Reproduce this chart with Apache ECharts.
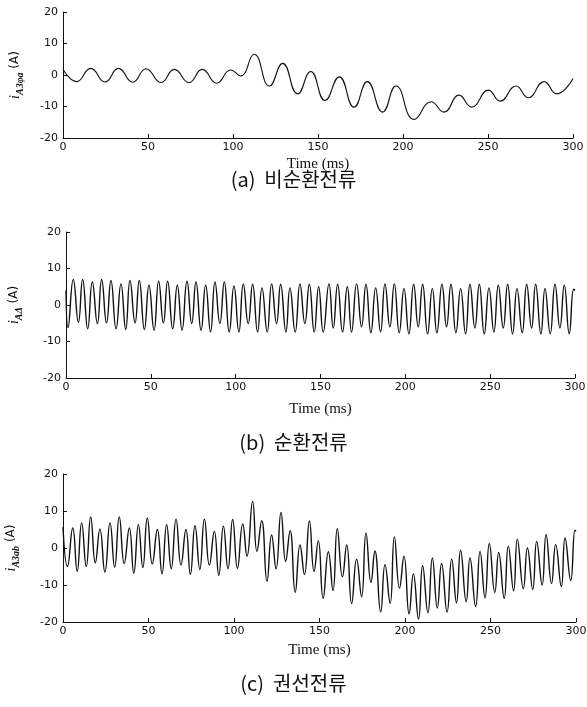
<!DOCTYPE html>
<html>
<head>
<meta charset="utf-8">
<script src="https://cdn.jsdelivr.net/npm/echarts@6/dist/echarts.min.js"></script>
<style>
  html, body { margin: 0; padding: 0; background: #fff; }
  #chart { width: 587px; height: 707px; }
</style>
</head>
<body>
<div id="chart"></div>
<script>
// Axis ticks shared by the three panels
const timeTicks = [0, 50, 100, 150, 200, 250, 300];
const currentTicks = [-20, -10, 0, 10, 20];

// (a) non-circulating current: turning points of the trace (ms, A)
const aTime = [0, 8.0, 16.3, 24.7, 32.6, 41.0, 48.8, 57.6, 65.5, 74.1, 81.9, 90.4, 98.6, 104.5, 112.4, 121.4, 129.2, 138.0, 145.7, 154.1, 162.5, 171.2, 179.0, 188.0, 195.9, 206.5, 216.6, 224.1, 232.9, 240.4, 250.2, 257.1, 266.5, 273.7, 283.0, 290.4, 300.0];
const aCur  = [1.8, -2.1, 2.1, -2.2, 2.1, -2.3, 2.0, -2.4, 1.8, -2.4, 1.8, -2.6, 1.6, -0.3, 6.6, -3.5, 3.7, -6.0, 1.1, -8.1, -0.6, -10.2, -2.1, -11.8, -3.5, -14.1, -8.5, -11.8, -6.4, -10.2, -4.8, -8.3, -3.5, -7.2, -2.1, -6.0, -1.1];

// (b) circulating current: turning points of the trace (ms, A)
const bTime = [0, 1.2, 4.3, 7.3, 9.8, 12.8, 15.5, 18.5, 21.0, 23.9, 26.5, 29.5, 32.4, 35.2, 37.7, 40.7, 43.2, 46.2, 48.9, 51.9, 54.6, 57.4, 59.9, 62.9, 65.6, 68.4, 71.3, 74.1, 76.6, 79.6, 82.3, 85.2, 87.8, 90.7, 93.3, 96.2, 99.0, 101.9, 104.5, 107.4, 110.0, 112.9, 115.5, 118.6, 121.2, 124.1, 126.5, 129.6, 132.0, 135.1, 137.9, 140.8, 143.4, 146.3, 148.9, 151.6, 155.0, 157.5, 160.1, 163.0, 165.8, 168.3, 171.3, 174.2, 176.8, 179.7, 182.5, 185.4, 188.0, 190.9, 193.5, 196.4, 199.2, 202.1, 204.9, 207.6, 210.2, 213.1, 215.9, 218.6, 221.6, 224.3, 226.9, 229.8, 232.6, 235.5, 238.1, 241.0, 243.6, 246.5, 249.3, 252.2, 254.8, 257.7, 260.3, 263.2, 265.8, 268.9, 271.5, 274.4, 276.8, 279.9, 282.3, 285.4, 288.2, 291.1, 293.7, 296.6, 299.2, 300.0];
const bCur  = [4.0, -6.2, 7.0, -4.7, 7.0, -6.5, 6.3, -5.1, 7.0, -4.9, 6.7, -6.5, 5.8, -6.7, 6.7, -4.9, 6.7, -6.7, 5.4, -6.9, 6.5, -4.9, 6.5, -6.5, 5.4, -6.9, 6.5, -5.1, 6.3, -6.9, 5.4, -7.4, 6.3, -5.1, 6.3, -7.4, 5.2, -7.4, 5.8, -5.1, 5.7, -7.4, 4.7, -7.4, 5.8, -5.1, 5.7, -7.4, 4.7, -7.4, 5.8, -5.1, 5.7, -7.4, 5.0, -7.4, 5.8, -6.3, 5.7, -7.4, 5.0, -7.4, 5.8, -6.0, 5.7, -7.6, 4.7, -7.4, 5.8, -6.0, 5.8, -7.6, 4.5, -7.9, 5.7, -6.0, 5.7, -7.9, 4.5, -7.6, 5.7, -6.0, 5.7, -7.6, 4.5, -7.9, 5.7, -6.3, 5.7, -7.9, 4.7, -7.4, 5.4, -6.3, 5.7, -7.9, 4.5, -7.6, 5.7, -6.3, 5.7, -7.9, 4.5, -7.9, 5.7, -6.3, 5.4, -7.9, 4.3, 4.0];

// (c) winding current: turning points of the trace (ms, A)
const cTime = [0, 2.6, 5.7, 8.3, 10.9, 13.6, 16.2, 18.9, 21.6, 24.5, 27.5, 30.2, 32.9, 35.8, 38.8, 41.4, 44.1, 46.7, 49.3, 52.2, 55.2, 57.9, 60.6, 63.3, 66.1, 69.0, 71.9, 74.5, 77.2, 80.0, 82.7, 85.6, 88.5, 91.1, 93.8, 96.5, 99.2, 102.0, 105.1, 107.6, 110.9, 113.4, 116.2, 119.3, 122.0, 124.6, 127.5, 130.2, 132.8, 135.8, 138.6, 141.2, 144.1, 146.8, 149.3, 152.1, 155.2, 157.9, 160.4, 163.4, 165.9, 168.8, 171.7, 174.6, 177.2, 180.1, 182.4, 185.8, 188.3, 191.3, 193.8, 196.8, 199.4, 202.4, 204.9, 207.9, 210.3, 213.4, 216.0, 218.9, 221.4, 224.6, 227.3, 230.1, 232.5, 235.8, 238.0, 241.3, 243.9, 246.8, 249.3, 252.5, 254.8, 258.0, 260.4, 263.5, 265.7, 269.2, 271.6, 274.7, 277.0, 280.2, 282.5, 285.7, 288.1, 291.4, 293.6, 296.9, 299.4, 300.0];
const cCur  = [5.6, -5.0, 5.4, -6.3, 6.8, -5.0, 8.4, -4.0, 5.1, -6.5, 6.8, -5.2, 8.4, -4.2, 5.4, -6.8, 6.3, -5.3, 8.1, -4.3, 5.0, -7.0, 6.3, -5.6, 7.8, -4.6, 5.0, -7.1, 6.0, -5.8, 7.8, -4.6, 4.5, -7.4, 5.9, -5.6, 7.7, -5.5, 6.5, -2.2, 12.6, -0.9, 7.4, -9.0, 3.5, -5.6, 9.6, -3.6, 4.7, -12.0, 0.8, -7.2, 7.3, -6.3, 2.0, -13.6, -1.0, -11.5, 5.2, -7.8, 0.8, -15.0, -3.0, -13.2, 4.0, -9.3, -0.8, -17.3, -4.5, -15.0, 3.0, -10.8, -2.2, -17.8, -7.0, -19.2, -4.8, -17.5, -2.7, -16.2, -4.2, -17.3, -3.0, -14.8, -0.6, -14.5, -2.7, -15.8, -0.9, -13.5, 1.2, -12.0, -1.2, -13.6, 0.5, -11.6, 2.4, -11.0, 0.0, -11.2, 1.8, -10.0, 3.6, -9.6, 0.9, -10.4, 2.7, -8.8, 4.8, 4.5];

const zip = (t, v) => t.map((x, i) => [x, v[i]]);

const panels = [
  { grid: { left: 63, top: 12, width: 510, height: 126 }, sub: 'A3φa', nameGap: 19, yNameGap: 38, data: zip(aTime, aCur), width: 1.1 },
  { grid: { left: 66, top: 232, width: 509, height: 146 }, sub: 'AΔ', nameGap: 24, yNameGap: 42, data: zip(bTime, bCur), width: 1.4 },
  { grid: { left: 63, top: 474, width: 513, height: 148 }, sub: 'A3ab', nameGap: 21, yNameGap: 42, data: zip(cTime, cCur), width: 1.4 }
];

const axisFont = 'DejaVu Sans, Liberation Sans, sans-serif';

const option = {
  backgroundColor: '#fff',
  animation: false,
  grid: panels.map(p => Object.assign({ containLabel: false, outerBoundsMode: 'none' }, p.grid)),
  xAxis: panels.map((p, i) => ({
    type: 'value',
    gridIndex: i,
    min: timeTicks[0],
    max: timeTicks[timeTicks.length - 1],
    interval: timeTicks[1] - timeTicks[0],
    name: 'Time (ms)',
    nameLocation: 'middle',
    nameGap: p.nameGap,
    nameTextStyle: { fontFamily: 'Liberation Serif, Times New Roman, serif', fontSize: 15, color: '#111' },
    axisLine: { onZero: false, lineStyle: { color: '#111', width: 1 } },
    axisTick: { inside: true, length: 4, lineStyle: { color: '#111' } },
    axisLabel: { margin: 4, fontSize: 11, color: '#111', fontFamily: axisFont },
    splitLine: { show: false }
  })),
  yAxis: panels.map((p, i) => ({
    type: 'value',
    gridIndex: i,
    min: currentTicks[0],
    max: currentTicks[currentTicks.length - 1],
    interval: currentTicks[1] - currentTicks[0],
    name: '{i|i}{s|' + p.sub + '}{u| (A)}',
    nameLocation: 'middle',
    nameRotate: 90,
    nameGap: p.yNameGap,
    nameTextStyle: {
      rich: {
        i: { fontFamily: 'Liberation Serif, serif', fontStyle: 'italic', fontSize: 14, color: '#111', lineHeight: 20, verticalAlign: 'middle' },
        s: { fontFamily: 'Liberation Serif, serif', fontStyle: 'italic', fontWeight: 'bold', fontSize: 10, color: '#111', lineHeight: 10, verticalAlign: 'bottom' },
        u: { fontFamily: axisFont, fontSize: 12, color: '#111', lineHeight: 20, verticalAlign: 'middle' }
      }
    },
    axisLine: { show: true, onZero: false, lineStyle: { color: '#111', width: 1 } },
    axisTick: { show: true, inside: true, length: 4, lineStyle: { color: '#111' } },
    axisLabel: { margin: 5, fontSize: 11, color: '#111', fontFamily: axisFont },
    splitLine: { show: false }
  })),
  series: panels.map((p, i) => ({
    type: 'line',
    xAxisIndex: i,
    yAxisIndex: i,
    data: p.data,
    smooth: 0.5,
    showSymbol: false,
    lineStyle: { color: '#111', width: p.width }
  })),
  graphic: [
    { type: 'text', left: 'center', top: 169, style: { text: '(a)  비순환전류', fontFamily: 'Noto Sans CJK KR', fontSize: 20, fill: '#111' } },
    { type: 'text', left: 'center', top: 432, style: { text: '(b)  순환전류', fontFamily: 'Noto Sans CJK KR', fontSize: 20, fill: '#111' } },
    { type: 'text', left: 'center', top: 673, style: { text: '(c)  권선전류', fontFamily: 'Noto Sans CJK KR', fontSize: 20, fill: '#111' } }
  ]
};

const chart = echarts.init(document.getElementById('chart'), null, { renderer: 'canvas' });
chart.setOption(option);
</script>
</body>
</html>
